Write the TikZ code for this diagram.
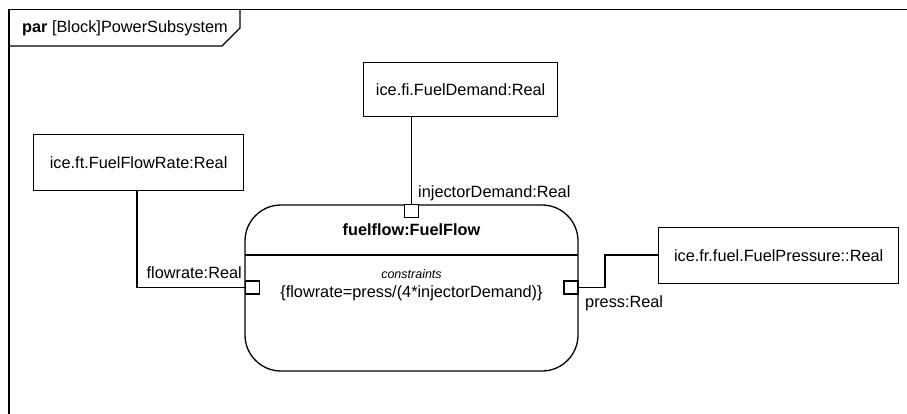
\documentclass[tikz,border=0pt]{standalone}
\usepackage{fontspec}
\setmainfont{Liberation Sans}
\begin{document}
\begin{tikzpicture}[x=1pt,y=-1pt,
  every node/.style={font=\fontsize{16.3}{19}\selectfont, inner sep=0pt},
  valbox/.style={draw, line width=1.3pt, rectangle, anchor=north west},
  portbox/.style={draw, line width=1.3pt, fill=white, rectangle, minimum width=14pt, minimum height=13pt},
  wire/.style={line width=1.3pt}]
\useasboundingbox (0,0) rectangle (907,414);

% diagram frame (clipped on the right and bottom)
\draw[line width=1.3pt] (9,414) -- (9,9.5) -- (907,9.5);
\draw[line width=1.3pt] (9,46) -- (222,46) -- (240,28) -- (240,9.5);
\node[anchor=west] (frametitle) at (22,28) {\textbf{par} [Block]PowerSubsystem};

% value boxes
\node[valbox, minimum width=210pt, minimum height=56pt] (flowrate) at (33,134) {};
\node (flowratetxt) at (flowrate.center) {ice.ft.FuelFlowRate:Real};
\node[valbox, minimum width=194pt, minimum height=54pt] (demand) at (363,62) {};
\node (demandtxt) at (demand.center) {ice.fi.FuelDemand:Real};
\node[valbox, minimum width=240pt, minimum height=56pt] (pressure) at (658,227) {};
\node (pressuretxt) at (pressure.center) {ice.fr.fuel.FuelPressure::Real};

% constraint property
\draw[line width=1.3pt, rounded corners=36pt] (245,205) rectangle (578,371);
\coordinate (cl) at (245,255);
\coordinate (cr) at (578,255);
\draw[line width=1.3pt] (cl) -- (cr);
\node[font=\fontsize{16.3}{19}\selectfont\bfseries] (title) at (411.5,230) {fuelflow:FuelFlow};
\node[font=\fontsize{12.5}{14}\selectfont\itshape] (ckw) at (411.5,274) {constraints};
\node (expr) at (411.5,293) {\{flowrate=press/(4*injectorDemand)\}};

% parameter ports
\node[portbox] (pflow) at (252.5,287.5) {};
\node[portbox] (pinj) at (411.5,211) {};
\node[portbox] (ppress) at (571,287.5) {};

% binding connectors
\coordinate (b1) at (137,287.5);
\draw[wire] (flowrate.south -| b1) -- (b1) -- (pflow.west);
\draw[wire] (demand.south -| pinj) -- (pinj.north);
\coordinate (b2) at (605,287.5);
\coordinate (b3) at (605,255);
\draw[wire] (ppress.east) -- (b2) -- (b3) -- (pressure.west |- b3);

% parameter labels
\node[anchor=east] (lflow) at (242,273) {flowrate:Real};
\node[anchor=west] (linj) at (418,193) {injectorDemand:Real};
\node[anchor=west] (lpress) at (585,303) {press:Real};
\end{tikzpicture}
\end{document}
